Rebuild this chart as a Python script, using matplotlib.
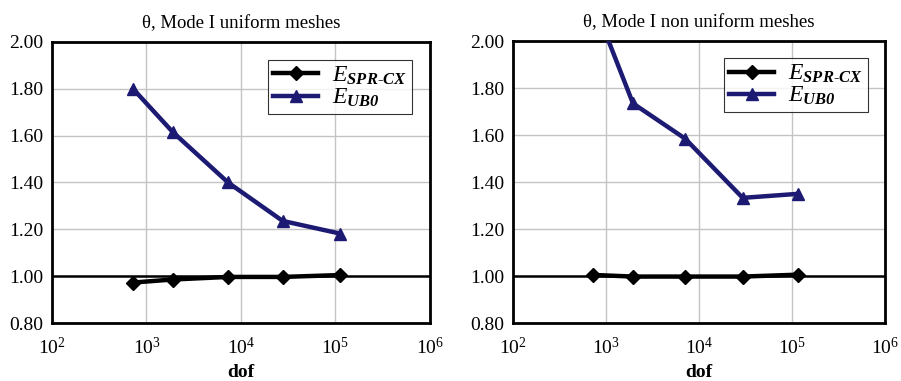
import matplotlib
matplotlib.use("Agg")
import matplotlib.pyplot as plt
from matplotlib.ticker import LogLocator, LogFormatterMathtext, NullLocator

plt.rcParams['font.family'] = ['Liberation Serif', 'DejaVu Serif']
plt.rcParams['mathtext.fontset'] = 'custom'
plt.rcParams['mathtext.rm'] = 'Liberation Serif'
plt.rcParams['mathtext.it'] = 'Liberation Serif:italic'
plt.rcParams['mathtext.bf'] = 'Liberation Serif:bold:italic'

# Degrees of freedom for the mesh sequences
dof_uniform = [720, 1900, 7300, 27600, 112000]
dof_nonuniform = [725, 1950, 7100, 29500, 115000]

# Effectivity indices
spr_uniform = [0.973, 0.986, 0.997, 0.997, 1.005]
ub0_uniform = [1.80, 1.615, 1.40, 1.236, 1.182]
spr_nonuniform = [1.005, 0.998, 0.998, 0.998, 1.006]
ub0_nonuniform = [2.17, 1.735, 1.585, 1.333, 1.35]

titles = [r"θ, Mode I uniform meshes", r"θ, Mode I non uniform meshes"]
yticks = [0.80, 1.00, 1.20, 1.40, 1.60, 1.80, 2.00]
label_spr = r"$E_{\mathbf{SPR}\text{-}\mathbf{CX}}$"
label_ub0 = r"$E_{\mathbf{UB0}}$"

navy = "#1c1a72"

fig = plt.figure(figsize=(9.01, 3.81), dpi=100)
positions = [[0.0577, 0.152, 0.4195, 0.738], [0.5694, 0.152, 0.4128, 0.740]]
legend_anchor = [(0.952, 0.936), (0.954, 0.940)]
datasets = [(dof_uniform, spr_uniform, ub0_uniform),
            (dof_nonuniform, spr_nonuniform, ub0_nonuniform)]

for pos, anchor, title, (dof, spr, ub0) in zip(positions, legend_anchor, titles, datasets):
    ax = fig.add_axes(pos)
    ax.set_xscale('log')
    ax.set_xlim(1e2, 1e6)
    ax.set_ylim(0.8, 2.0)
    ax.xaxis.set_major_locator(LogLocator(base=10, numticks=10))
    ax.xaxis.set_major_formatter(LogFormatterMathtext())
    ax.xaxis.set_minor_locator(NullLocator())
    ax.set_yticks(yticks)
    ax.set_yticklabels([f"{v:.2f}" for v in yticks])
    ax.grid(True, color="#c4c4c4", linewidth=1.0)
    ax.set_axisbelow(True)
    ax.axhline(1.0, color="black", linewidth=1.8, zorder=2)
    ax.tick_params(length=0, labelsize=14)
    ax.tick_params(axis='x', pad=10)
    ax.tick_params(axis='y', pad=6)
    for s in ax.spines.values():
        s.set_linewidth(2.0)
        s.set_color("black")
    ax.plot(dof, spr, color="black", linewidth=3.2, marker="D", markersize=7,
            label=label_spr, zorder=4)
    ax.plot(dof, ub0, color=navy, linewidth=3.2, marker="^", markersize=9,
            label=label_ub0, zorder=3)
    ax.set_title(title, fontsize=13.5, pad=10)
    ax.set_xlabel("dof", fontsize=14, fontweight="bold", labelpad=4)
    leg = ax.legend(loc="upper right", bbox_to_anchor=anchor,
                    fontsize=17, frameon=True, fancybox=False,
                    edgecolor="black", handlelength=1.9, borderpad=0.2,
                    labelspacing=0.0, handletextpad=0.6, borderaxespad=0)
    leg.get_frame().set_linewidth(0.8)

fig.savefig("out.png", dpi=100)
